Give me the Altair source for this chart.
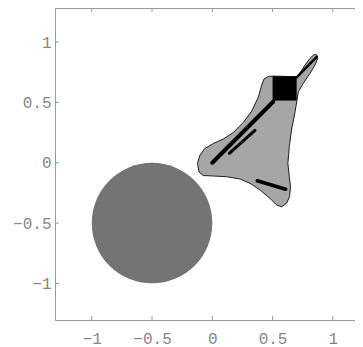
import altair as alt
import pandas as pd

# ---- data (data coordinates) ----
tick_values = [-1, -0.5, 0, 0.5, 1]

# outline of the gray shape, clockwise from the top-right tip
shape_x = [0.866, 0.875, 0.852, 0.811, 0.755, 0.714, 0.703, 0.682, 0.657, 0.639,
           0.627, 0.639, 0.649, 0.641, 0.616, 0.576, 0.534, 0.479, 0.396, 0.313,
           0.230, 0.120, 0.008, -0.075, -0.110, -0.123, -0.102, -0.061, 0.008, 0.091,
           0.174, 0.257, 0.327, 0.382, 0.410, 0.429, 0.465, 0.504, 0.645, 0.709,
           0.769, 0.811, 0.846]
shape_y = [0.892, 0.865, 0.809, 0.741, 0.658, 0.588, 0.519, 0.395, 0.271, 0.133,
           -0.005, -0.116, -0.199, -0.282, -0.336, -0.365, -0.350, -0.295, -0.226, -0.171,
           -0.135, -0.116, -0.110, -0.106, -0.077, -0.005, 0.064, 0.119, 0.159, 0.196,
           0.250, 0.333, 0.428, 0.544, 0.644, 0.694, 0.714, 0.718, 0.714, 0.713,
           0.809, 0.865, 0.898]

# black square
square_x = [0.50, 0.70]
square_y = [0.515, 0.715]

# black line segments
seg_name = ["main", "upper", "parallel", "lower"]
seg_x1 = [0.0, 0.700, 0.141, 0.373]
seg_y1 = [0.0, 0.707, 0.078, -0.149]
seg_x2 = [0.505, 0.866, 0.354, 0.609]
seg_y2 = [0.505, 0.878, 0.268, -0.220]

# disk of points
disk_cx = [-0.5]
disk_cy = [-0.5]
disk_r = 0.5

# ---- layout / style ----
W, H = 300, 312
XDOM = [-1.305, 1.184]
YDOM = [-1.303, 1.282]
px_per_unit = W / (XDOM[1] - XDOM[0])
seg_width = {"main": 4, "upper": 2.5, "parallel": 3, "lower": 3.5}
AXC = "#9a9a9a"
LBC = "#868686"
FONT = "Liberation Mono"

xs = alt.Scale(domain=XDOM, nice=False, zero=False)
ys = alt.Scale(domain=YDOM, nice=False, zero=False)

xaxis = alt.Axis(values=tick_values, format="~g", title=None, grid=False,
                 labelPadding=10, tickSize=0)
yaxis = alt.Axis(values=tick_values, format="~g", title=None, grid=False,
                 labelPadding=4, tickSize=0)

ticks_df = pd.DataFrame({"t": tick_values})

bottom_ticks = alt.Chart(ticks_df).mark_rule(color=AXC, strokeWidth=1).encode(
    x=alt.X("t:Q", scale=xs, axis=xaxis),
    y=alt.value(H),
    y2=alt.value(H - 4),
)
top_ticks = alt.Chart(ticks_df).mark_rule(color=AXC, strokeWidth=1).encode(
    x=alt.X("t:Q", scale=xs, axis=xaxis),
    y=alt.value(0),
    y2=alt.value(4),
)
left_ticks = alt.Chart(ticks_df).mark_rule(color=AXC, strokeWidth=1).encode(
    y=alt.Y("t:Q", scale=ys, axis=yaxis),
    x=alt.value(0),
    x2=alt.value(4),
)
top_line = alt.Chart(ticks_df.head(1)).mark_rule(color=AXC, strokeWidth=1).encode(
    x=alt.value(0), x2=alt.value(W), y=alt.value(0.5)
)

disk_df = pd.DataFrame({"x": disk_cx, "y": disk_cy})
disk = alt.Chart(disk_df).mark_point(shape="circle", filled=True, opacity=1,
                                     color="#747474", strokeWidth=0).encode(
    x=alt.X("x:Q", scale=xs, axis=xaxis),
    y=alt.Y("y:Q", scale=ys, axis=yaxis),
    size=alt.value((2 * disk_r * px_per_unit) ** 2),
)

shape_df = pd.DataFrame({"x": shape_x, "y": shape_y, "i": list(range(len(shape_x)))})
shape = alt.Chart(shape_df).mark_line(fill="#a6a6a6", stroke="#1e1e1e", strokeWidth=1,
                                      interpolate="linear-closed").encode(
    x=alt.X("x:Q", scale=xs, axis=xaxis),
    y=alt.Y("y:Q", scale=ys, axis=yaxis),
    order=alt.Order("i:Q"),
)

sq_df = pd.DataFrame({"x": [square_x[0]], "x2": [square_x[1]],
                      "y": [square_y[0]], "y2": [square_y[1]]})
square = alt.Chart(sq_df).mark_rect(color="black").encode(
    x=alt.X("x:Q", scale=xs, axis=xaxis), x2="x2:Q",
    y=alt.Y("y:Q", scale=ys, axis=yaxis), y2="y2:Q",
)

seg_layers = []
for n, a, b, c, d in zip(seg_name, seg_x1, seg_y1, seg_x2, seg_y2):
    df = pd.DataFrame({"x": [a], "y": [b], "x2": [c], "y2": [d]})
    seg_layers.append(
        alt.Chart(df).mark_rule(color="black", strokeWidth=seg_width[n], strokeCap="round").encode(
            x=alt.X("x:Q", scale=xs, axis=xaxis), x2="x2:Q",
            y=alt.Y("y:Q", scale=ys, axis=yaxis), y2="y2:Q",
        )
    )

chart = alt.layer(bottom_ticks, top_ticks, left_ticks, top_line, disk, shape, *seg_layers, square).properties(
    width=W, height=H,
    autosize=alt.AutoSizeParams(type="none"),
    padding={"left": 47, "top": 0, "right": 0, "bottom": 27},
).configure_view(stroke=None).configure(background="white").configure_axis(
    labelFont=FONT, labelFontSize=16, labelColor=LBC, domainColor=AXC,
    ticks=False, labelFlush=False
)

chart.save("out.html", embed_options={"renderer": "svg", "actions": False})
